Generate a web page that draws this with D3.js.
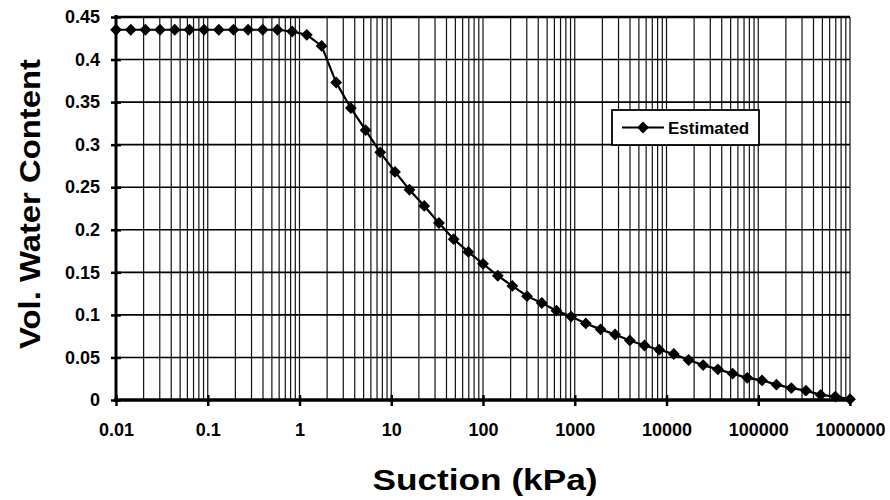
<!DOCTYPE html>
<html>
<head>
<meta charset="utf-8">
<script src="https://cdn.jsdelivr.net/npm/d3@7"></script>
<style>
  body { margin: 0; background: #fff; }
  svg { display: block; font-family: "Liberation Sans", Arial, sans-serif; }
</style>
</head>
<body>
<div id="chart"></div>
<script>
// Suction values (kPa), log-spaced points.
const suction = [
  0.01, 0.0145, 0.0209, 0.0302, 0.0437, 0.0631, 0.0912, 0.132, 0.191, 0.275,
  0.398, 0.575, 0.832, 1.2, 1.74, 2.51, 3.63, 5.25, 7.59, 11.0,
  15.8, 22.9, 33.1, 47.9, 69.2, 100, 145, 209, 302, 437,
  631, 912, 1320, 1910, 2750, 3980, 5750, 8320, 12000, 17400,
  25100, 36300, 52500, 75900, 110000, 158000, 229000, 331000, 479000, 692000,
  1000000
];
// Estimated volumetric water content at each suction.
const waterContent = [
  0.435, 0.435, 0.435, 0.435, 0.435, 0.435, 0.435, 0.435, 0.435, 0.435,
  0.435, 0.435, 0.433, 0.429, 0.416, 0.373, 0.343, 0.317, 0.291, 0.268,
  0.247, 0.228, 0.208, 0.189, 0.174, 0.160, 0.146, 0.134, 0.122, 0.114,
  0.105, 0.098, 0.090, 0.083, 0.077, 0.070, 0.064, 0.059, 0.054, 0.047,
  0.041, 0.036, 0.031, 0.026, 0.023, 0.018, 0.014, 0.011, 0.006, 0.004,
  0.001
];
const seriesName = "Estimated";

const yTicks = [0, 0.05, 0.1, 0.15, 0.2, 0.25, 0.3, 0.35, 0.4, 0.45];
const yTickLabels = ["0", "0.05", "0.1", "0.15", "0.2", "0.25", "0.3", "0.35", "0.4", "0.45"];
const xTicks = [0.01, 0.1, 1, 10, 100, 1000, 10000, 100000, 1000000];
const xTickLabels = ["0.01", "0.1", "1", "10", "100", "1000", "10000", "100000", "1000000"];

const data = suction.map((s, i) => ({ s: s, w: waterContent[i] }));

const width = 890, height = 500;
const svg = d3.select("#chart").append("svg")
  .attr("width", width)
  .attr("height", height);

// Scales
const x = d3.scaleLog().domain([0.01, 1000000]).range([116, 850]);
const y = d3.scaleLinear().domain([0, 0.45]).range([400, 17]);

// Vertical gridlines at every 1..9 multiple of each decade
svg.append("g")
  .selectAll("line")
  .data(x.ticks())
  .enter().append("line")
  .attr("x1", d => x(d)).attr("x2", d => x(d))
  .attr("y1", y(0.45)).attr("y2", y(0))
  .attr("stroke", "#111")
  .attr("stroke-width", 1.2);

// Horizontal gridlines
svg.append("g")
  .selectAll("line")
  .data(yTicks)
  .enter().append("line")
  .attr("x1", x(0.01)).attr("x2", x(1000000))
  .attr("y1", d => y(d)).attr("y2", d => y(d))
  .attr("stroke", "#000")
  .attr("stroke-width", d => d === 0.45 ? 2.5 : 1.6);

// Y axis with cross ticks
svg.append("g")
  .attr("transform", `translate(${x(0.01)},0)`)
  .call(d3.axisLeft(y).tickValues(yTicks)
    .tickFormat((d, i) => yTickLabels[i])
    .tickSize(5).tickPadding(11))
  .call(g => g.select(".domain").attr("stroke-width", 3).attr("d", `M0,${y(0.45) - 2}V${y(0) + 2}`))
  .call(g => g.selectAll(".tick line").attr("x1", 5).attr("stroke-width", 2.5))
  .call(g => g.selectAll(".tick text")
    .attr("font-size", 18).attr("font-weight", "bold").attr("fill", "#000")
    .attr("font-family", "'Liberation Sans', Arial, sans-serif"));

// X axis with cross ticks
svg.append("g")
  .attr("transform", `translate(0,${y(0)})`)
  .call(d3.axisBottom(x).tickValues(xTicks)
    .tickFormat((d, i) => xTickLabels[i])
    .tickSize(6).tickPadding(17))
  .call(g => g.select(".domain").attr("stroke-width", 3.5).attr("d", `M${x(0.01) - 2},0H${x(1000000) + 2}`))
  .call(g => g.selectAll(".tick line").attr("y1", -5).attr("stroke-width", 2.5))
  .call(g => g.selectAll(".tick text")
    .attr("font-size", 18).attr("font-weight", "bold").attr("fill", "#000")
    .attr("font-family", "'Liberation Sans', Arial, sans-serif"));

// Series line
const line = d3.line()
  .x(d => x(d.s))
  .y(d => y(d.w));

svg.append("path")
  .datum(data)
  .attr("fill", "none")
  .attr("stroke", "#000")
  .attr("stroke-width", 2.2)
  .attr("d", line);

// Diamond markers
const diamond = d3.symbol().type(d3.symbolSquare).size(70);
svg.append("g")
  .selectAll("path")
  .data(data)
  .enter().append("path")
  .attr("d", diamond)
  .attr("transform", d => `translate(${x(d.s)},${y(d.w)}) rotate(45)`)
  .attr("fill", "#000");

// Legend
const legend = svg.append("g").attr("transform", "translate(612,110)");
legend.append("rect")
  .attr("width", 147).attr("height", 35)
  .attr("fill", "#fff")
  .attr("stroke", "#000")
  .attr("stroke-width", 1.8);
legend.append("line")
  .attr("x1", 10).attr("x2", 52)
  .attr("y1", 17.5).attr("y2", 17.5)
  .attr("stroke", "#000").attr("stroke-width", 2.2);
legend.append("path")
  .attr("d", diamond)
  .attr("transform", "translate(31,17.5) rotate(45)")
  .attr("fill", "#000");
legend.append("text")
  .attr("x", 56).attr("y", 23.5)
  .attr("font-size", 17)
  .attr("font-weight", "bold")
  .text(seriesName);

// Axis titles
svg.append("text")
  .attr("x", 485).attr("y", 490)
  .attr("text-anchor", "middle")
  .attr("font-size", 30)
  .attr("font-weight", "bold")
  .attr("textLength", 225)
  .attr("lengthAdjust", "spacingAndGlyphs")
  .text("Suction (kPa)");

svg.append("text")
  .attr("transform", "translate(40,204) rotate(-90)")
  .attr("text-anchor", "middle")
  .attr("font-size", 29)
  .attr("font-weight", "bold")
  .attr("textLength", 290)
  .attr("lengthAdjust", "spacingAndGlyphs")
  .text("Vol. Water Content");
</script>
</body>
</html>
